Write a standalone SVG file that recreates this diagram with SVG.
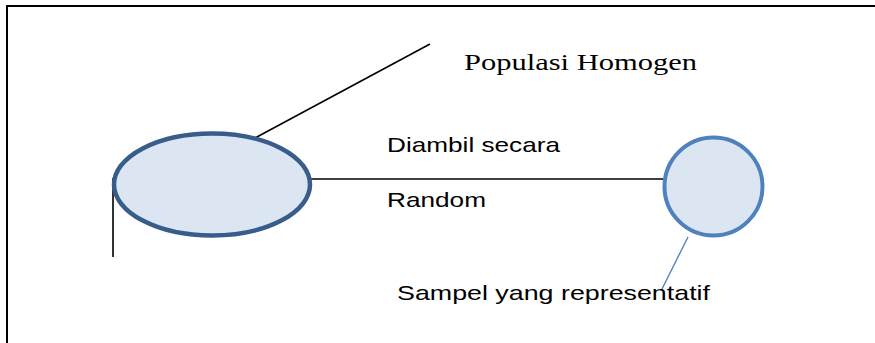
<svg xmlns="http://www.w3.org/2000/svg" width="875" height="343" viewBox="0 0 875 343">
  <style>
    .frame { fill: none; stroke: #000; stroke-width: 2; }
    .conn { stroke: #000; stroke-width: 1.6; fill: none; }
    .lbl { font-family: "Liberation Sans", "Open Sans", sans-serif; font-size: 21px; fill: #000; }
    .ser { font-family: "Liberation Serif", "DejaVu Serif", serif; font-size: 23.5px; fill: #000; }
  </style>
  <rect width="875" height="343" fill="#fff"/>
  <rect class="frame" x="7" y="6" width="880" height="350"/>

  <g id="connectors">
    <line class="conn" x1="255" y1="138" x2="430" y2="44"/>
    <line class="conn" x1="311" y1="179" x2="663" y2="179"/>
    <line class="conn" x1="113" y1="178" x2="113" y2="257"/>
    <line x1="688" y1="237" x2="661" y2="291" stroke="#4f81bd" stroke-width="1.4"/>
  </g>

  <g id="populasi">
    <ellipse cx="212" cy="184.5" rx="98" ry="51" fill="#dce6f2" stroke="#385d8a" stroke-width="4.5"/>
  </g>

  <g id="sampel">
    <circle cx="713.5" cy="186.5" r="49" fill="#dce6f2" stroke="#4f81bd" stroke-width="4"/>
  </g>

  <g id="labels">
    <text class="ser" x="464" y="70" textLength="233" lengthAdjust="spacingAndGlyphs">Populasi Homogen</text>
    <text class="lbl" x="387" y="152" textLength="173" lengthAdjust="spacingAndGlyphs">Diambil secara</text>
    <text class="lbl" x="387" y="207" textLength="99" lengthAdjust="spacingAndGlyphs">Random</text>
    <text class="lbl" x="397" y="300" textLength="313" lengthAdjust="spacingAndGlyphs">Sampel yang representatif</text>
  </g>
</svg>
